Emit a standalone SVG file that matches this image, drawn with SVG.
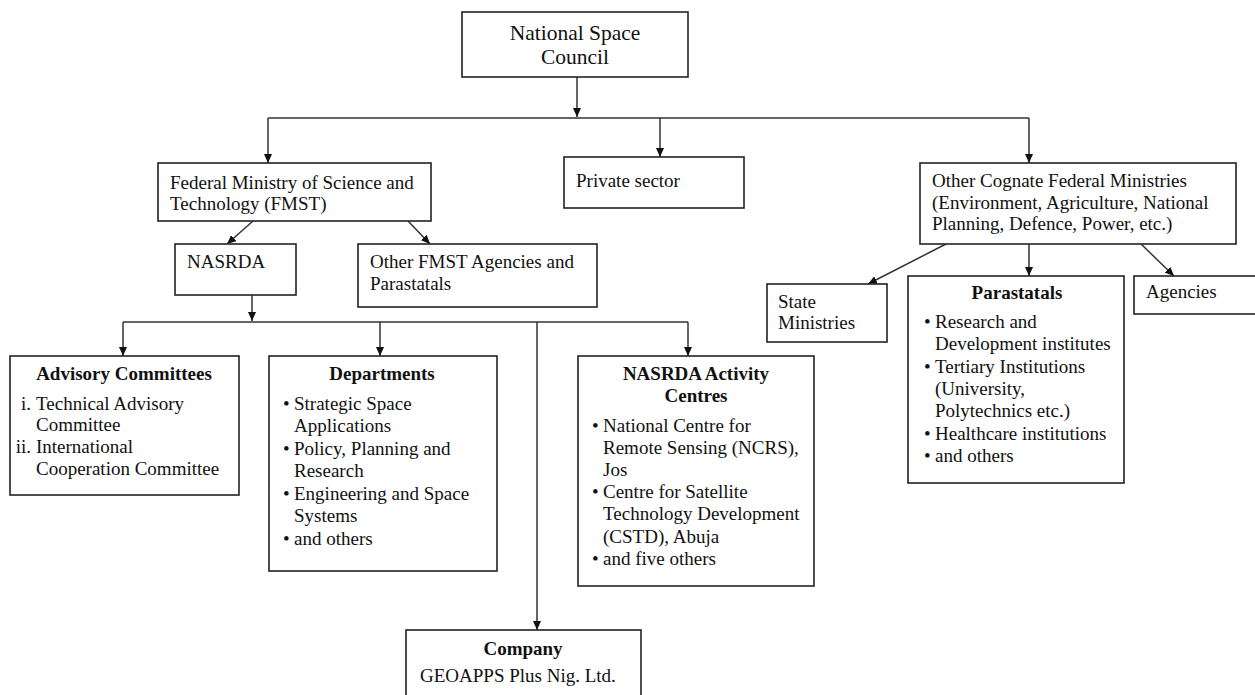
<svg xmlns="http://www.w3.org/2000/svg" width="1255" height="695" viewBox="0 0 1255 695">
<style>
.box{fill:#fff;stroke:#222;stroke-width:1.6}
.t{font-family:"Liberation Serif","Times New Roman",serif;font-size:19px;fill:#111}
.big{font-size:21.5px}
.b{font-weight:bold}
.c{text-anchor:middle}
.e{text-anchor:end}
.ln{fill:none;stroke:#333;stroke-width:1.5}
</style>
<defs>
<marker id="arr" markerUnits="userSpaceOnUse" markerWidth="9" markerHeight="8" refX="9" refY="4" orient="auto">
<path d="M0,0 L9,4 L0,8 z" fill="#111"/>
</marker>
</defs>
<rect width="1255" height="695" fill="#fff"/>
<g id="connectors">
<path class="ln" d="M577,77 V117" marker-end="url(#arr)"/>
<path class="ln" d="M268,118 H1029"/>
<path class="ln" d="M268,118 V163" marker-end="url(#arr)"/>
<path class="ln" d="M660,118 V157" marker-end="url(#arr)"/>
<path class="ln" d="M1029,118 V163" marker-end="url(#arr)"/>
<path class="ln" d="M253,221 L227,244" marker-end="url(#arr)"/>
<path class="ln" d="M408,221 L430,244" marker-end="url(#arr)"/>
<path class="ln" d="M252,295 V321" marker-end="url(#arr)"/>
<path class="ln" d="M123,322 H688"/>
<path class="ln" d="M123,322 V356" marker-end="url(#arr)"/>
<path class="ln" d="M380,322 V356" marker-end="url(#arr)"/>
<path class="ln" d="M688,322 V356" marker-end="url(#arr)"/>
<path class="ln" d="M537,322 V630" marker-end="url(#arr)"/>
<path class="ln" d="M946,244 L868,284" marker-end="url(#arr)"/>
<path class="ln" d="M1029,244 V276" marker-end="url(#arr)"/>
<path class="ln" d="M1141,244 L1174,276" marker-end="url(#arr)"/>
</g>
<g id="national-space-council">
<rect class="box" x="462" y="12" width="226" height="65"/>
<text class="t big c" x="575" y="40">National Space</text>
<text class="t big c" x="575" y="64">Council</text>
</g>
<g id="fmst">
<rect class="box" x="158" y="163" width="273" height="58"/>
<text class="t" x="170" y="189">Federal Ministry of Science and</text>
<text class="t" x="170" y="210">Technology (FMST)</text>
</g>
<g id="private-sector">
<rect class="box" x="564" y="157" width="180" height="51"/>
<text class="t" x="576" y="187">Private sector</text>
</g>
<g id="other-cognate">
<rect class="box" x="920" y="163" width="316" height="81"/>
<text class="t" x="932" y="187">Other Cognate Federal Ministries</text>
<text class="t" x="932" y="209">(Environment, Agriculture, National</text>
<text class="t" x="932" y="230">Planning, Defence, Power, etc.)</text>
</g>
<g id="nasrda">
<rect class="box" x="175" y="244" width="121" height="51"/>
<text class="t" x="187" y="268">NASRDA</text>
</g>
<g id="other-fmst">
<rect class="box" x="358" y="244" width="239" height="63"/>
<text class="t" x="370" y="268">Other FMST Agencies and</text>
<text class="t" x="370" y="290">Parastatals</text>
</g>
<g id="state-ministries">
<rect class="box" x="767" y="284" width="120" height="58"/>
<text class="t" x="778" y="308">State</text>
<text class="t" x="778" y="329">Ministries</text>
</g>
<g id="parastatals">
<rect class="box" x="908" y="276" width="216" height="207"/>
<text class="t b c" x="1017" y="299">Parastatals</text>
<text class="t" x="924" y="328">•</text><text class="t" x="935" y="328">Research and</text>
<text class="t" x="935" y="350">Development institutes</text>
<text class="t" x="924" y="373">•</text><text class="t" x="935" y="373">Tertiary Institutions</text>
<text class="t" x="935" y="395">(University,</text>
<text class="t" x="935" y="417">Polytechnics etc.)</text>
<text class="t" x="924" y="440">•</text><text class="t" x="935" y="440">Healthcare institutions</text>
<text class="t" x="924" y="462">•</text><text class="t" x="935" y="462">and others</text>
</g>
<g id="agencies">
<rect class="box" x="1134" y="276" width="124" height="38"/>
<text class="t" x="1146" y="298">Agencies</text>
</g>
<g id="advisory-committees">
<rect class="box" x="10" y="356" width="229" height="139"/>
<text class="t b c" x="124" y="380">Advisory Committees</text>
<text class="t e" x="31" y="410">i.</text><text class="t" x="36" y="410">Technical Advisory</text>
<text class="t" x="36" y="431">Committee</text>
<text class="t e" x="31" y="453">ii.</text><text class="t" x="36" y="453">International</text>
<text class="t" x="36" y="475">Cooperation Committee</text>
</g>
<g id="departments">
<rect class="box" x="269" y="356" width="228" height="215"/>
<text class="t b c" x="382" y="380">Departments</text>
<text class="t" x="283" y="410">•</text><text class="t" x="294" y="410">Strategic Space</text>
<text class="t" x="294" y="432">Applications</text>
<text class="t" x="283" y="455">•</text><text class="t" x="294" y="455">Policy, Planning and</text>
<text class="t" x="294" y="477">Research</text>
<text class="t" x="283" y="500">•</text><text class="t" x="294" y="500">Engineering and Space</text>
<text class="t" x="294" y="522">Systems</text>
<text class="t" x="283" y="545">•</text><text class="t" x="294" y="545">and others</text>
</g>
<g id="activity-centres">
<rect class="box" x="578" y="356" width="236" height="230"/>
<text class="t b c" x="696" y="380">NASRDA Activity</text>
<text class="t b c" x="696" y="402">Centres</text>
<text class="t" x="592" y="432">•</text><text class="t" x="603" y="432">National Centre for</text>
<text class="t" x="603" y="454">Remote Sensing (NCRS),</text>
<text class="t" x="603" y="476">Jos</text>
<text class="t" x="592" y="498">•</text><text class="t" x="603" y="498">Centre for Satellite</text>
<text class="t" x="603" y="520">Technology Development</text>
<text class="t" x="603" y="543">(CSTD), Abuja</text>
<text class="t" x="592" y="565">•</text><text class="t" x="603" y="565">and five others</text>
</g>
<g id="company">
<rect class="box" x="406" y="630" width="235" height="75"/>
<text class="t b c" x="523" y="655">Company</text>
<text class="t" x="420" y="682">GEOAPPS Plus Nig. Ltd.</text>
</g>
</svg>
